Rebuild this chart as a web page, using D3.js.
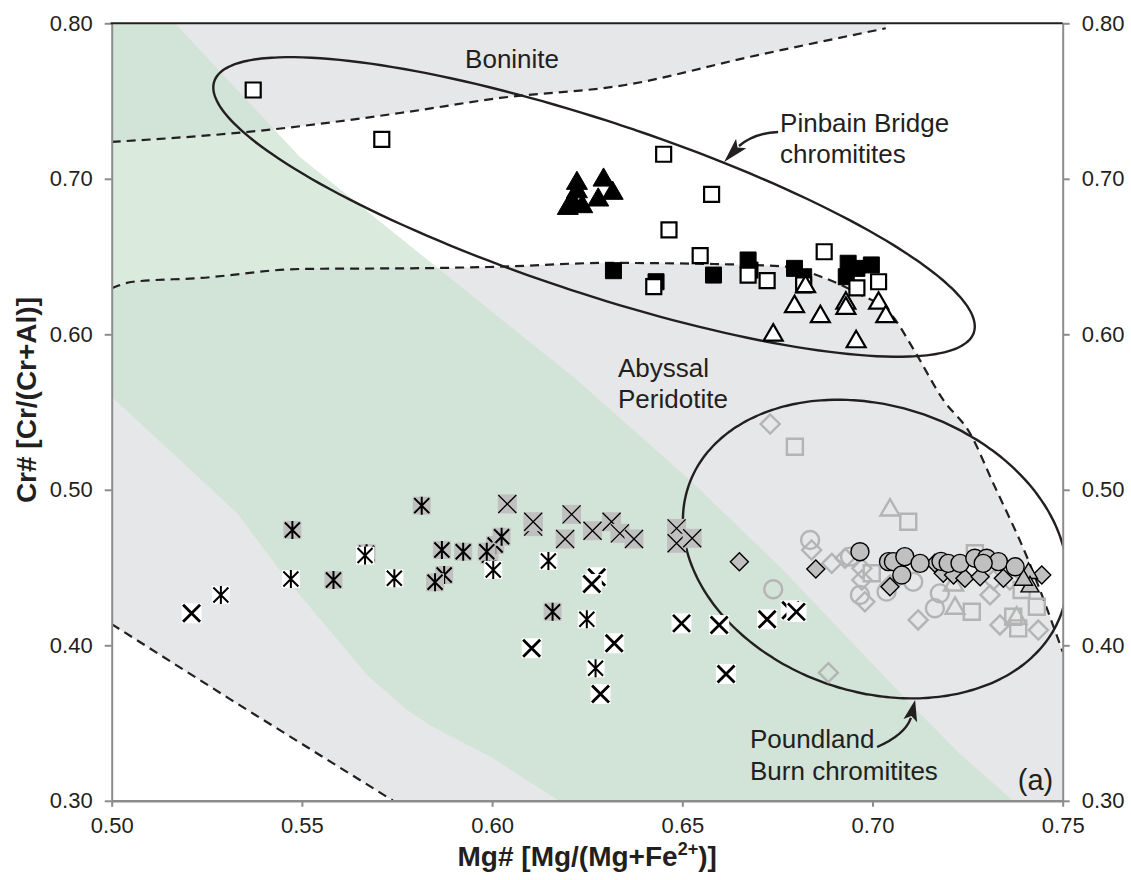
<!DOCTYPE html>
<html><head><meta charset="utf-8">
<script src="https://cdn.jsdelivr.net/npm/d3@7"></script>
<style>body{margin:0;background:#fff}svg{display:block}</style>
</head><body>
<svg id="chart" width="1131" height="880"></svg>
<script>
// ---------- axes ----------
const xTicks = [0.50, 0.55, 0.60, 0.65, 0.70, 0.75];
const yTicks = [0.30, 0.40, 0.50, 0.60, 0.70, 0.80];
const xTitle = "Mg# [Mg/(Mg+Fe";
const xTitleSup = "2+";
const xTitleEnd = ")]";
const yTitle = "Cr# [Cr/(Cr+Al)]";

// ---------- field boundaries (data coords) ----------
const boniniteBoundary = [[0.5,0.7237],[0.5364,0.7303],[0.5758,0.7423],[0.6021,0.752],[0.635,0.7603],[0.6679,0.7785],[0.7035,0.7968]];
const abyssalUpper = [[0.5,0.6296],[0.5056,0.6338],[0.5232,0.6362],[0.5495,0.642],[0.5845,0.6426],[0.6021,0.6435],[0.6302,0.6459],[0.6583,0.6452],[0.6773,0.6435],[0.6865,0.637],[0.6959,0.6266],[0.7054,0.6113],[0.7109,0.5899],[0.7186,0.5578],[0.7256,0.5365],[0.7317,0.5044],[0.7406,0.4568],[0.75,0.3957]];
const abyssalLower = [[0.5,0.4136],[0.5314,0.3649],[0.5739,0.3002]];
const greenBand = [[0.5,0.8],[0.5166,0.8],[0.5495,0.714],[0.5994,0.6156],[0.6223,0.5706],[0.6528,0.5044],[0.6757,0.4503],[0.709,0.3648],[0.7227,0.3307],[0.7369,0.3],[0.6176,0.3],[0.5997,0.3282],[0.5845,0.3475],[0.5776,0.3585],[0.5671,0.381],[0.5461,0.4421],[0.5329,0.4852],[0.5003,0.5592],[0.5,0.559]];

// ---------- Pinbain Bridge chromitites ----------
const pbOpenSquares = [[0.5372,0.7571],[0.5710,0.7254],[0.6451,0.7158],[0.6577,0.690],[0.6465,0.6671],[0.6547,0.6506],[0.6873,0.6531],[0.6425,0.6306],[0.6673,0.6381],[0.6723,0.6345],[0.6819,0.6317],[0.7016,0.6338],[0.6959,0.6298]];
const pbFilledSquares = [[0.6319,0.6409],[0.6431,0.6338],[0.6582,0.6381],[0.6673,0.6478],[0.6678,0.6413],[0.6795,0.6424],[0.6819,0.637],[0.6936,0.6457],[0.6997,0.6446],[0.6931,0.637],[0.6959,0.6424]];
const pbFilledTriangles = [[0.6223,0.6971],[0.6293,0.6992],[0.6213,0.6842],[0.6237,0.6821],[0.6279,0.6864],[0.6317,0.6907],[0.6199,0.681],[0.6223,0.6917]];
const pbOpenTriangles = [[0.6824,0.6306],[0.6739,0.5995],[0.6795,0.6178],[0.6863,0.6113],[0.6930,0.620],[0.6930,0.6167],[0.7016,0.620],[0.7035,0.6113],[0.6957,0.5952]];

// ---------- Poundland Burn chromitites ----------
const pdXWhite = [[0.5210,0.4206],[0.6275,0.4437],[0.6262,0.4394],[0.6104,0.3981],[0.6321,0.4013],[0.6285,0.3687],[0.6498,0.4141],[0.6597,0.4130],[0.6723,0.4167],[0.6615,0.3816],[0.6785,0.4225],[0.6800,0.4215]];
const pdAstWhite = [[0.5287,0.4323],[0.5471,0.4426],[0.5743,0.4431],[0.6003,0.4484],[0.6148,0.4542],[0.6249,0.4167],[0.6272,0.3852]];
const pdAstGray = [[0.5475,0.4742],[0.5583,0.4420],[0.5815,0.4898],[0.5670,0.4592],[0.5868,0.4613],[0.5924,0.4602],[0.5874,0.4452],[0.5850,0.4405],[0.5993,0.4580],[0.6008,0.4645],[0.6025,0.4698],[0.5986,0.4602],[0.6159,0.4216]];
const pdAstWhiteTop = [[0.5666,0.4577]];
const pdXGray = [[0.6040,0.4909],[0.6108,0.4763],[0.6108,0.4795],[0.6209,0.4842],[0.6192,0.4684],[0.6264,0.4737],[0.6314,0.4795],[0.6336,0.4720],[0.6373,0.4684],[0.6485,0.4752],[0.6485,0.4656],[0.6526,0.4688]];
const pdOpenDiamonds = [[0.6731,0.5423],[0.6884,0.3824],[0.6840,0.4613],[0.6893,0.4527],[0.6928,0.4560],[0.6972,0.4495],[0.6972,0.4420],[0.6980,0.4280],[0.7046,0.4388],[0.7120,0.4163],[0.7309,0.4324],[0.7335,0.4131],[0.7436,0.4098],[0.7318,0.4420],[0.7361,0.4420]];
const pdOpenCircles = [[0.6739,0.4360],[0.6836,0.4677],[0.6941,0.4570],[0.6967,0.4323],[0.7037,0.4345],[0.7107,0.4409],[0.7164,0.4238],[0.7177,0.4334]];
const pdOpenSquares = [[0.6796,0.5277],[0.6998,0.4463],[0.7094,0.4795],[0.7261,0.4216],[0.7269,0.4592],[0.7370,0.4184],[0.7383,0.4109],[0.7392,0.4356],[0.7432,0.4248]];
const pdOpenTriangles = [[0.7046,0.4870],[0.7217,0.4238],[0.7213,0.4388],[0.7379,0.4174]];
const pdFilledDiamonds = [[0.6650,0.4538],[0.6851,0.4491],[0.7164,0.4527],[0.7186,0.4463],[0.7213,0.4452],[0.7243,0.4431],[0.7283,0.4441],[0.7344,0.4431],[0.7445,0.4452],[0.7046,0.4377]];
const pdFilledCircles = [[0.6967,0.4602],[0.7042,0.4538],[0.7055,0.4538],[0.7085,0.4570],[0.7125,0.4527],[0.7077,0.4452],[0.7180,0.4540],[0.7199,0.4527],[0.7230,0.4527],[0.7269,0.4560],[0.7300,0.4560],[0.7331,0.4538],[0.7375,0.4505],[0.7291,0.4527]];
const pdFilledTriangles = [[0.7410,0.4463],[0.7414,0.4377],[0.7397,0.4420]];

// ---------- annotations ----------
const ellipses = [
  {cx:0.6268, cy:0.6819, a:400, b:86, rot:18.3},
  {cx:0.7007, cy:0.4619, a:197, b:143, rot:18.5}
];
const labels = [
  {t:"Boninite", x:0.5929, y:0.7713},
  {t:"Pinbain Bridge", x:0.6757, y:0.7301},
  {t:"chromitites", x:0.6757, y:0.7102},
  {t:"Abyssal", x:0.6331, y:0.5725},
  {t:"Peridotite", x:0.6331, y:0.5526},
  {t:"Poundland", x:0.6678, y:0.3339},
  {t:"Burn chromitites", x:0.6678, y:0.3134}
];
const panelLabel = {t:"(a)", x:0.7382, y:0.3070};
const arrows = [
  {s:[0.6752,0.7301], c:[0.6691,0.7295], e:[0.6649,0.7211], tip:[0.6610,0.7108]},
  {s:[0.7012,0.3346], c:[0.7085,0.3423], e:[0.7101,0.3533], tip:[0.7112,0.3649]}
];

// ---------- drawing ----------
const FONT = '"Liberation Sans", Arial, Helvetica, sans-serif';
const INK = '#231f20';
const GRAYF = '#e6e7e8';
const OPENG = '#b4b4b4';
const FILLG = '#c0c0c0';
const AXC = '#8c8c8c';

const svg = d3.select('#chart');
const x = d3.scaleLinear().domain([0.5,0.75]).range([111.7,1062.7]);
const y = d3.scaleLinear().domain([0.3,0.8]).range([800.8,23.3]);

svg.append('rect').attr('width',1131).attr('height',880).attr('fill','#fff');
svg.append('defs').append('clipPath').attr('id','plot').append('rect')
  .attr('x',x(0.5)).attr('y',y(0.8)).attr('width',x(0.75)-x(0.5)).attr('height',y(0.3)-y(0.8));

const plot = svg.append('g').attr('clip-path','url(#plot)');
const lineC = d3.line().x(d=>x(d[0])).y(d=>y(d[1])).curve(d3.curveMonotoneX);
const lineL = d3.line().x(d=>x(d[0])).y(d=>y(d[1]));

// boninite field
plot.append('path')
  .attr('d', lineC(boniniteBoundary) + `L${x(boniniteBoundary[boniniteBoundary.length-1][0])},${y(0.8)}L${x(0.5)},${y(0.8)}Z`)
  .attr('fill', GRAYF);
// abyssal peridotite field
const lowRev = abyssalLower.slice().reverse();
plot.append('path')
  .attr('d', lineC(abyssalUpper) + `L${x(0.75)},${y(0.3)}` + lowRev.map(d=>`L${x(d[0])},${y(d[1])}`).join('') + 'Z')
  .attr('fill', GRAYF);
// green band
plot.append('path').attr('d', lineL(greenBand)+'Z').attr('fill','rgb(200,226,206)').attr('fill-opacity',0.68);

// dashed boundaries
[boniniteBoundary, abyssalUpper].forEach(b=>{
  plot.append('path').attr('d', lineC(b)).attr('fill','none').attr('stroke',INK)
    .attr('stroke-width',2.2).attr('stroke-dasharray','9,6');
});
plot.append('path').attr('d', lineL(abyssalLower)).attr('fill','none').attr('stroke',INK)
  .attr('stroke-width',2.2).attr('stroke-dasharray','9,6');

// ellipses
ellipses.forEach(e=>{
  const pts = d3.range(0,360,2).map(t=>{
    const r = t*Math.PI/180, th = e.rot*Math.PI/180;
    const ux = e.a*Math.cos(r), uy = e.b*Math.sin(r);
    return [x(e.cx) + ux*Math.cos(th) - uy*Math.sin(th), y(e.cy) + ux*Math.sin(th) + uy*Math.cos(th)];
  });
  plot.append('path').attr('d', d3.line().curve(d3.curveCardinalClosed)(pts))
    .attr('fill','none').attr('stroke',INK).attr('stroke-width',2.4);
});

// arrows
arrows.forEach(a=>{
  const S=[x(a.s[0]),y(a.s[1])], C=[x(a.c[0]),y(a.c[1])], E=[x(a.e[0]),y(a.e[1])], T=[x(a.tip[0]),y(a.tip[1])];
  plot.append('path').attr('d',`M${S[0]},${S[1]}Q${C[0]},${C[1]} ${E[0]},${E[1]}`)
    .attr('fill','none').attr('stroke',INK).attr('stroke-width',2.4);
  const dx=T[0]-E[0], dy=T[1]-E[1], L=Math.hypot(dx,dy), nx=-dy/L, ny=dx/L, hw=7;
  const B=[E[0]-dx*0.15, E[1]-dy*0.15];
  plot.append('path').attr('d',`M${T[0]},${T[1]}L${B[0]+nx*hw},${B[1]+ny*hw}L${E[0]+dx*0.1},${E[1]+dy*0.1}L${B[0]-nx*hw},${B[1]-ny*hw}Z`)
    .attr('fill',INK);
});

// labels
plot.selectAll('text.lab').data(labels).join('text').attr('class','lab')
  .attr('x',d=>x(d.x)).attr('y',d=>y(d.y)).text(d=>d.t)
  .attr('font-family',FONT).attr('font-size',26).attr('fill',INK);
plot.append('text').attr('x',x(panelLabel.x)).attr('y',y(panelLabel.y)).text(panelLabel.t)
  .attr('font-family',FONT).attr('font-size',29).attr('fill',INK);

// ---------- markers ----------
const sq = s=>{const h=s/2;return `M${-h},${-h}H${h}V${h}H${-h}Z`;};
const dia = s=>{const h=s/2;return `M0,${-h}L${h},0L0,${h}L${-h},0Z`;};
const tri = s=>{const hg=s*Math.sqrt(3)/2;return `M0,${-2*hg/3}L${s/2},${hg/3}L${-s/2},${hg/3}Z`;};
const circ = s=>{const r=s/2;return `M${-r},0A${r},${r} 0 1,0 ${r},0A${r},${r} 0 1,0 ${-r},0Z`;};

const mk = plot.append('g');
function shapes(data, pathFn, size, fill, stroke, sw){
  mk.append('g').selectAll('path').data(data).join('path')
    .attr('transform',d=>`translate(${x(d[0])},${y(d[1])})`)
    .attr('d',pathFn(size)).attr('fill',fill).attr('stroke',stroke).attr('stroke-width',sw);
}
function crosses(data, bg, box, arm, sw, aster){
  const g = mk.append('g').selectAll('g').data(data).join('g')
    .attr('transform',d=>`translate(${x(d[0])},${y(d[1])})`);
  g.append('rect').attr('x',-box/2).attr('y',-box/2).attr('width',box).attr('height',box).attr('fill',bg);
  g.append('path').attr('d',`M${-arm},${-arm}L${arm},${arm}M${arm},${-arm}L${-arm},${arm}`+(aster?`M0,${-box/2}V${box/2}`:''))
    .attr('stroke','#000').attr('stroke-width',sw).attr('fill','none');
}

// Poundland open grey symbols
shapes(pdOpenDiamonds, dia, 19, 'none', OPENG, 2.4);
shapes(pdOpenCircles, circ, 18, 'none', OPENG, 2.4);
shapes(pdOpenSquares, sq, 16, 'none', OPENG, 2.4);
shapes(pdOpenTriangles, tri, 19, 'none', OPENG, 2.4);
// Poundland filled grey symbols
shapes(pdFilledDiamonds, dia, 18, FILLG, '#000', 1.4);
shapes(pdFilledTriangles, tri, 18, FILLG, '#000', 1.4);
shapes(pdFilledCircles, circ, 18, FILLG, '#000', 1.4);
// Poundland cross symbols
crosses(pdXGray, FILLG, 19, 9, 1.3, false);
crosses(pdAstGray, FILLG, 18, 7.5, 2, true);
crosses(pdAstWhite, '#fff', 18, 7.5, 2, true);
crosses(pdXWhite, '#fff', 20, 8.5, 2.8, false);
crosses(pdAstWhiteTop, '#fff', 18, 7.5, 2, true);

// Pinbain Bridge symbols
shapes(pbFilledSquares, sq, 16, '#000', '#000', 1);
shapes(pbOpenSquares, sq, 15, '#fff', '#000', 2.2);
shapes(pbOpenTriangles, tri, 19, '#fff', '#000', 2.2);
shapes(pbFilledTriangles, tri, 21, '#000', '#000', 1);

// ---------- axes ----------
const fmt = d3.format('.2f');
function styleAxis(g, sw){
  g.select('.domain').attr('stroke',AXC).attr('stroke-width',sw);
  g.selectAll('.tick line').attr('stroke',AXC).attr('stroke-width',2);
  g.selectAll('.tick text').attr('fill',INK).attr('font-size',22).attr('font-family',FONT);
}
const topLine = svg.append('line').attr('x1',x(0.5)-1).attr('x2',x(0.75)).attr('y1',y(0.8)).attr('y2',y(0.8))
  .attr('stroke',INK).attr('stroke-width',2);
const gl = svg.append('g').attr('transform',`translate(${x(0.5)},0)`)
  .call(d3.axisLeft(y).tickValues(yTicks).tickFormat(fmt).tickSize(7).tickSizeOuter(0).tickPadding(12));
styleAxis(gl, 2);
const gr = svg.append('g').attr('transform',`translate(${x(0.75)},0)`)
  .call(d3.axisRight(y).tickValues(yTicks).tickFormat(fmt).tickSize(7).tickSizeOuter(0).tickPadding(12));
styleAxis(gr, 2);
const gb = svg.append('g').attr('transform',`translate(0,${y(0.3)})`)
  .call(d3.axisBottom(x).tickValues(xTicks).tickFormat(fmt).tickSize(6).tickSizeOuter(0).tickPadding(11));
styleAxis(gb, 2.6);
topLine.raise();

// titles
const xt = svg.append('text').attr('x',(x(0.5)+x(0.75))/2).attr('y',866).attr('text-anchor','middle')
  .attr('font-family',FONT).attr('font-weight','bold').attr('font-size',28).attr('fill',INK);
xt.append('tspan').text(xTitle);
xt.append('tspan').text(xTitleSup).attr('font-size',18).attr('dy',-11);
xt.append('tspan').text(xTitleEnd).attr('dy',11);
svg.append('text').attr('transform',`translate(36,${(y(0.3)+y(0.8))/2-12}) rotate(-90)`).attr('text-anchor','middle')
  .attr('font-family',FONT).attr('font-weight','bold').attr('font-size',28).attr('fill',INK).text(yTitle);
</script>
</body></html>
